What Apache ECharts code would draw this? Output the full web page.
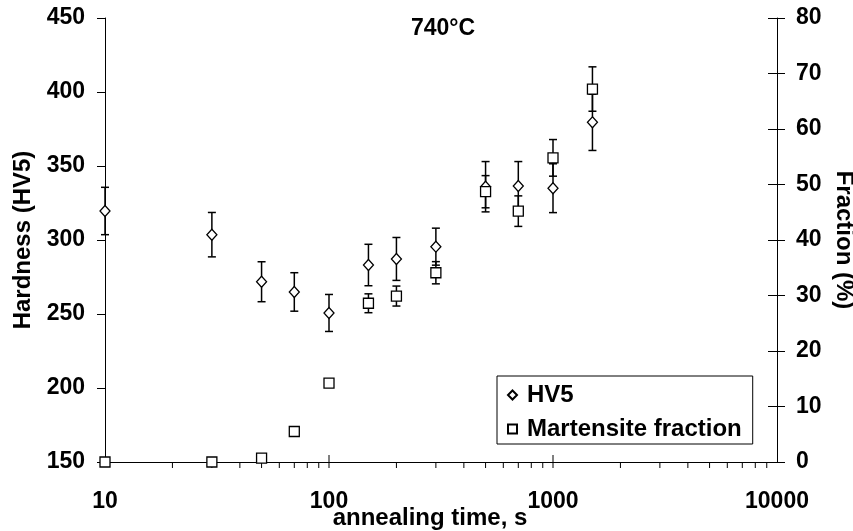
<!DOCTYPE html>
<html>
<head>
<meta charset="utf-8">
<script src="https://cdn.jsdelivr.net/npm/echarts@6/dist/echarts.min.js"></script>
<style>
  html, body { margin: 0; padding: 0; background: #fff; }
  #chart { width: 853px; height: 531px; }
</style>
</head>
<body>
<div id="chart"></div>
<script>
// annealing times (s)
const times = [10, 30, 50, 70, 100, 150, 200, 300, 500, 700, 1000, 1500]
// hardness HV5 and its error (±)
const hv = [319.6, 303.6, 271.8, 264.9, 250.7, 283.1, 287.2, 295.5, 336, 336.5, 335, 379.5]
const hvErr = [16, 15, 13.5, 13, 12.5, 14, 14.5, 12.5, 17, 16.5, 16.5, 19]
// martensite fraction (%) and its error (±), null = no bar
const frac = [0, 0, 0.7, 5.5, 14.2, 28.6, 29.9, 34.1, 48.7, 45.2, 54.8, 67.2]
const fracErr = [null, null, null, null, null, 1.7, 1.8, 2, 2.9, 2.75, 3.3, 4]

// log axis ticks
const xMajorTicks = [100, 1000]
const xMinorTicks = [20, 30, 40, 50, 60, 70, 80, 90, 200, 300, 400, 500, 600, 700, 800, 900,
  2000, 3000, 4000, 5000, 6000, 7000, 8000, 9000]

const FONT = "'Liberation Sans', Arial, sans-serif"
const INK = '#000'
const txt = { color: INK, fontFamily: FONT, fontWeight: 'bold', fontSize: 23 }
const big = { ...txt, fontSize: 24 }

const hvPts = times.map((t, i) => [t, hv[i]])
const fracPts = times.map((t, i) => [t, frac[i]])
const hvBars = times.map((t, i) => [t, hv[i] - hvErr[i], hv[i] + hvErr[i]])
const fracBars = times
  .map((t, i) => (fracErr[i] == null ? null : [t, frac[i] - fracErr[i], frac[i] + fracErr[i]]))
  .filter(Boolean)

function errorBar(params, api) {
  const x = api.value(0)
  const lo = api.coord([x, api.value(1)])
  const hi = api.coord([x, api.value(2)])
  const w = 4
  const style = { stroke: INK, lineWidth: 1.5 }
  return {
    type: 'group',
    children: [
      { type: 'line', shape: { x1: hi[0], y1: hi[1], x2: lo[0], y2: lo[1] }, style },
      { type: 'line', shape: { x1: hi[0] - w, y1: hi[1], x2: hi[0] + w, y2: hi[1] }, style },
      { type: 'line', shape: { x1: lo[0] - w, y1: lo[1], x2: lo[0] + w, y2: lo[1] }, style }
    ]
  }
}

// x ticks drawn on the axis line: majors cross, minors point down
function xTick(major) {
  return function (params, api) {
    const p = api.coord([api.value(0), 150])
    const up = major ? 7 : 0
    return {
      type: 'line',
      shape: { x1: p[0], y1: p[1] - up, x2: p[0], y2: p[1] + 6 },
      style: { stroke: INK, lineWidth: 1 }
    }
  }
}

const chart = echarts.init(document.getElementById('chart'))

chart.setOption({
  animation: false,
  backgroundColor: '#fff',
  title: {
    text: '740°C',
    left: 411,
    top: 17,
    padding: 0,
    textStyle: { ...txt }
  },
  grid: { left: 105, right: 76, top: 18, bottom: 69, outerBoundsMode: 'none' },
  legend: {
    orient: 'vertical',
    left: 497,
    top: 376,
    padding: [7, 11, 3, 10],
    itemGap: 10,
    itemWidth: 9,
    itemHeight: 9,
    borderColor: INK,
    borderWidth: 1,
    textStyle: { ...big, padding: [0, 0, 0, 5] },
    data: ['HV5', 'Martensite fraction']
  },
  xAxis: {
    type: 'log',
    logBase: 10,
    min: 10,
    max: 10000,
    name: 'annealing time, s',
    nameLocation: 'middle',
    nameGap: 44,
    nameMoveOverlap: false,
    nameTextStyle: { ...big, padding: [0, 22, 0, 0] },
    axisLine: { lineStyle: { color: INK, width: 1 } },
    axisTick: { show: false },
    splitLine: { show: false },
    axisLabel: { ...txt, margin: 28, formatter: (v) => String(Math.round(v)) }
  },
  yAxis: [
    {
      type: 'value',
      min: 150,
      max: 450,
      interval: 50,
      name: 'Hardness (HV5)',
      nameLocation: 'middle',
      nameGap: 70,
      nameMoveOverlap: false,
      nameTextStyle: { ...big },
      axisLine: { show: true, lineStyle: { color: INK, width: 1 } },
      axisTick: { show: true, length: 8, lineStyle: { color: INK } },
      splitLine: { show: false },
      axisLabel: { ...txt, margin: 20 }
    },
    {
      type: 'value',
      position: 'right',
      min: 0,
      max: 80,
      interval: 10,
      name: 'Fraction (%)',
      nameLocation: 'middle',
      nameGap: 55,
      nameRotate: -90,
      nameMoveOverlap: false,
      nameTextStyle: { ...big },
      axisLine: { show: true, lineStyle: { color: INK, width: 1 } },
      axisTick: { show: true, length: 8, lineStyle: { color: INK } },
      splitLine: { show: false },
      axisLabel: { ...txt, margin: 19 }
    },
    {
      // inner half of the crossing ticks on the right axis
      type: 'value',
      position: 'right',
      min: 0,
      max: 80,
      interval: 10,
      axisLine: { show: false },
      axisTick: { show: true, inside: true, length: 9, lineStyle: { color: INK } },
      splitLine: { show: false },
      axisLabel: { show: false }
    }
  ],
  series: [
    {
      type: 'custom',
      renderItem: xTick(false),
      data: xMinorTicks.map((t) => [t, 150]),
      silent: true,
      z: 1
    },
    {
      type: 'custom',
      renderItem: xTick(true),
      data: xMajorTicks.map((t) => [t, 150]),
      silent: true,
      z: 1
    },
    {
      type: 'custom',
      yAxisIndex: 0,
      renderItem: errorBar,
      encode: { x: 0, y: [1, 2] },
      data: hvBars,
      silent: true,
      z: 2
    },
    {
      type: 'custom',
      yAxisIndex: 1,
      renderItem: errorBar,
      encode: { x: 0, y: [1, 2] },
      data: fracBars,
      silent: true,
      z: 2
    },
    {
      name: 'HV5',
      type: 'scatter',
      yAxisIndex: 0,
      symbol: 'diamond',
      symbolSize: [10, 11],
      itemStyle: { color: '#fff', borderColor: INK, borderWidth: 1.3, opacity: 1 },
      data: hvPts,
      z: 3
    },
    {
      name: 'Martensite fraction',
      type: 'scatter',
      yAxisIndex: 1,
      symbol: 'rect',
      symbolSize: 10,
      itemStyle: { color: '#fff', borderColor: INK, borderWidth: 1.3, opacity: 1 },
      data: fracPts,
      z: 4
    }
  ]
})
</script>
</body>
</html>
